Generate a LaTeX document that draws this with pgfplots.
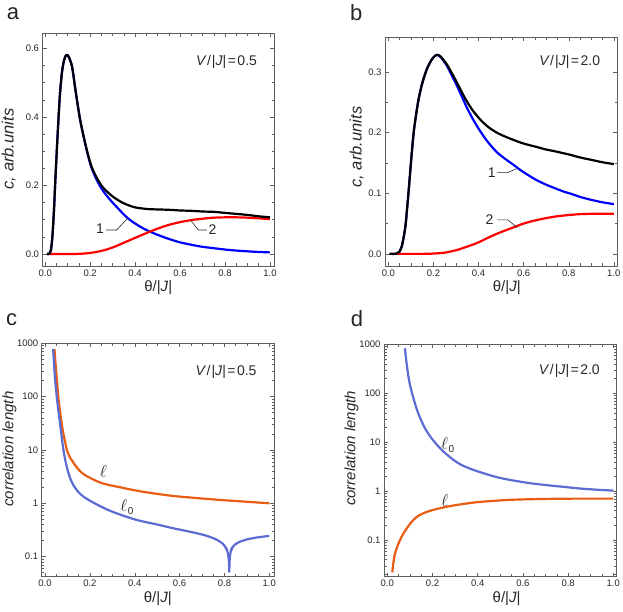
\documentclass[border=0pt]{standalone}
\usepackage{pgfplots}
\pgfplotsset{compat=1.18}
\usepackage{fontspec}
\setmainfont{Liberation Sans}
\definecolor{lorange}{RGB}{232,92,20}
\definecolor{lblue}{RGB}{92,108,210}
\definecolor{txt}{RGB}{40,40,40}
\definecolor{frm}{RGB}{95,95,95}
\newcommand{\tickfont}{\fontsize{9.5}{10}\selectfont}
\newcommand{\labfont}{\fontsize{15}{16}\selectfont}
\newcommand{\annfont}{\fontsize{14}{15}\selectfont}
\newcommand{\ellfont}{\fontsize{17}{18}\selectfont}
\newcommand{\VJ}[1]{\textit{V}\kern0.5pt/\kern1pt|\textit{J}|\kern1.5pt=\kern1.5pt#1}
\newcommand{\ellz}{$\ell$\kern0.5pt\raisebox{-3pt}{\fontsize{10}{10}\selectfont 0}}
\pgfplotsset{
  myaxis/.style={
    scale only axis,
    anchor=south west,
    axis line style={frm, line width=0.6pt},
    every tick/.style={frm, line width=0.5pt},
    major tick length=4pt,
    minor tick length=2.5pt,
    tick align=inside,
    xtick={0,0.2,0.4,0.6,0.8,1.0},
    minor x tick num=3,
    /pgf/number format/assume math mode=true,
    tick label style={font=\tickfont, text=txt},
    xticklabel style={/pgf/number format/.cd, fixed, fixed zerofill, precision=1},
    xlabel={θ/|\textit{J}|},
    xlabel style={at={(axis description cs:0.5,0)}, anchor=center, yshift=-21.5pt, font=\labfont, text=txt},
    ylabel style={font=\labfont, text=txt, anchor=center},
    every axis plot/.append style={line width=2.2pt, line join=round},
  },
  linaxis/.style={
    yticklabel style={/pgf/number format/.cd, fixed, fixed zerofill, precision=1},
    ylabel style={font=\fontsize{16.5}{17}\selectfont},
  },
  logaxis/.style={
    ytick={0.1,1,10,100,1000},
    yticklabels={0.1,1,10,100,1000},
    minor ytick={0.02,0.03,0.04,0.05,0.06,0.07,0.08,0.09,0.2,0.3,0.4,0.5,0.6,0.7,0.8,0.9,2,3,4,5,6,7,8,9,20,30,40,50,60,70,80,90,200,300,400,500,600,700,800,900},
    ylabel={\textit{correlation length}},
  },
}
\begin{document}
\begin{tikzpicture}
\path[use as bounding box] (0,0) rectangle (623pt,611pt);

% ---------- panel a ----------
\begin{axis}[myaxis, linaxis, at={(42.5pt,345pt)}, width=231.5pt, height=232.7pt,
  xmin=-0.012, xmax=1.018, ymin=-0.035, ymax=0.644,
  ytick={0,0.2,0.4,0.6}, minor y tick num=3,
  ylabel={\textit{c, arb.units}},
  ylabel style={at={(axis description cs:-0.146,0.503)}}]
\addplot[blue, smooth, tension=0.5] coordinates {
(0.008,0) (0.015,0) (0.02,0.002) (0.025,0.01) (0.03,0.035) (0.034,0.07) (0.04,0.14)
(0.044,0.2) (0.05,0.28) (0.055,0.345) (0.06,0.405) (0.065,0.46) (0.07,0.5) (0.075,0.532)
(0.08,0.553) (0.085,0.568) (0.09,0.577) (0.095,0.581) (0.1,0.58) (0.105,0.575) (0.11,0.567)
(0.115,0.558) (0.12,0.545) (0.125,0.525) (0.13,0.5) (0.14,0.455) (0.153,0.4) (0.165,0.36)
(0.175,0.33) (0.185,0.302) (0.195,0.276) (0.207,0.25) (0.225,0.222) (0.244,0.198) (0.26,0.182)
(0.28,0.165) (0.3,0.15) (0.32,0.136) (0.34,0.122) (0.36,0.109) (0.38,0.098) (0.4,0.089)
(0.43,0.077) (0.46,0.067) (0.5,0.056) (0.55,0.044) (0.6,0.034) (0.65,0.027) (0.7,0.021)
(0.75,0.017) (0.8,0.013) (0.85,0.01) (0.9,0.0078) (0.95,0.006) (1.0,0.0047)};
\addplot[red, smooth, tension=0.5] coordinates {
(0.008,0) (0.1,0) (0.15,0.0005) (0.2,0.003) (0.25,0.009) (0.3,0.019) (0.35,0.033)
(0.4,0.047) (0.45,0.061) (0.5,0.074) (0.55,0.085) (0.6,0.093) (0.65,0.099) (0.7,0.103)
(0.75,0.106) (0.8,0.107) (0.85,0.107) (0.9,0.106) (0.95,0.104) (1.0,0.102)};
\addplot[black, smooth, tension=0.5] coordinates {
(0.008,0) (0.015,0) (0.02,0.002) (0.025,0.01) (0.03,0.035) (0.034,0.07) (0.04,0.14)
(0.044,0.2) (0.05,0.28) (0.055,0.345) (0.06,0.405) (0.065,0.46) (0.07,0.5) (0.075,0.532)
(0.08,0.553) (0.085,0.568) (0.09,0.577) (0.095,0.581) (0.1,0.58) (0.105,0.575) (0.11,0.567)
(0.115,0.558) (0.12,0.545) (0.125,0.525) (0.13,0.5) (0.14,0.455) (0.153,0.401) (0.165,0.361)
(0.175,0.332) (0.185,0.304) (0.195,0.279) (0.207,0.254) (0.225,0.228) (0.244,0.206) (0.26,0.192)
(0.28,0.179) (0.3,0.168) (0.32,0.159) (0.34,0.151) (0.36,0.145) (0.38,0.140) (0.4,0.136)
(0.43,0.133) (0.46,0.131) (0.5,0.130) (0.55,0.129) (0.6,0.127) (0.65,0.126) (0.7,0.124)
(0.75,0.123) (0.8,0.120) (0.85,0.117) (0.9,0.114) (0.95,0.110) (1.0,0.107)};
\draw[txt, line width=0.6pt] (axis cs:0.271,0.07) -- (axis cs:0.318,0.07) -- (axis cs:0.366,0.104);
\draw[txt, line width=0.6pt] (axis cs:0.719,0.07) -- (axis cs:0.681,0.07) -- (axis cs:0.647,0.099);
\node[font=\annfont, text=txt, inner sep=0pt] at (axis cs:0.244,0.073) {1};
\node[font=\annfont, text=txt, inner sep=0pt] at (axis cs:0.744,0.071) {2};
\node[font=\annfont, text=txt, inner sep=0pt, anchor=east] at (axis cs:0.943,0.561) {\VJ{0.5}};
\end{axis}

% ---------- panel b ----------
\begin{axis}[myaxis, linaxis, at={(385pt,345pt)}, width=232pt, height=228.7pt,
  xmin=-0.015, xmax=1.014, ymin=-0.02, ymax=0.357,
  ytick={0,0.1,0.2,0.3}, minor y tick num=1,
  ylabel={\textit{c, arb.units}},
  ylabel style={at={(axis description cs:-0.122,0.52)}},
  xlabel style={at={(axis description cs:0.525,0)}}]
\addplot[blue, smooth, tension=0.5] coordinates {
(0.005,0) (0.03,0) (0.04,0.001) (0.05,0.004) (0.055,0.008) (0.06,0.013) (0.064,0.02)
(0.07,0.032) (0.077,0.05) (0.083,0.075) (0.089,0.1) (0.1,0.15) (0.111,0.196) (0.12,0.222)
(0.133,0.253) (0.15,0.281) (0.17,0.304) (0.19,0.319) (0.2,0.324) (0.214,0.328) (0.23,0.325)
(0.258,0.311) (0.28,0.295) (0.303,0.278) (0.325,0.26) (0.347,0.242) (0.375,0.222) (0.406,0.203)
(0.44,0.185) (0.48,0.168) (0.52,0.156) (0.554,0.147) (0.59,0.137) (0.628,0.128) (0.66,0.121)
(0.7,0.114) (0.74,0.108) (0.775,0.103) (0.81,0.099) (0.849,0.094) (0.9,0.089) (0.95,0.085) (1.0,0.082)};
\addplot[red, smooth, tension=0.5] coordinates {
(0.005,0) (0.15,0) (0.2,0.0005) (0.25,0.002) (0.3,0.006) (0.35,0.012) (0.4,0.019)
(0.45,0.028) (0.5,0.036) (0.55,0.043) (0.6,0.05) (0.65,0.055) (0.7,0.059) (0.75,0.062)
(0.8,0.064) (0.85,0.0655) (0.9,0.066) (0.95,0.066) (1.0,0.066)};
\addplot[black, smooth, tension=0.5] coordinates {
(0.005,0) (0.03,0) (0.04,0.001) (0.05,0.004) (0.055,0.008) (0.06,0.013) (0.064,0.02)
(0.07,0.032) (0.077,0.05) (0.083,0.075) (0.089,0.1) (0.1,0.15) (0.111,0.196) (0.12,0.222)
(0.133,0.253) (0.15,0.281) (0.17,0.304) (0.19,0.319) (0.2,0.324) (0.214,0.328) (0.23,0.326)
(0.258,0.313) (0.28,0.299) (0.303,0.283) (0.325,0.267) (0.347,0.252) (0.375,0.236) (0.406,0.222)
(0.44,0.21) (0.48,0.2) (0.52,0.193) (0.554,0.188) (0.59,0.183) (0.628,0.179) (0.66,0.176)
(0.7,0.172) (0.74,0.169) (0.775,0.166) (0.81,0.163) (0.849,0.159) (0.9,0.155) (0.95,0.151) (1.0,0.148)};
\draw[txt, line width=0.6pt] (axis cs:0.483,0.134) -- (axis cs:0.529,0.134) -- (axis cs:0.572,0.141);
\draw[txt, line width=0.6pt] (axis cs:0.483,0.056) -- (axis cs:0.529,0.056) -- (axis cs:0.572,0.0435);
\node[font=\annfont, text=txt, inner sep=0pt] at (axis cs:0.458,0.133) {1};
\node[font=\annfont, text=txt, inner sep=0pt] at (axis cs:0.448,0.056) {2};
\node[font=\annfont, text=txt, inner sep=0pt, anchor=east] at (axis cs:0.94,0.316) {\VJ{2.0}};
\end{axis}

% ---------- panel c ----------
\begin{axis}[myaxis, ymode=log, logaxis, at={(41.7pt,34.3pt)}, width=232.3pt, height=233.4pt,
  xmin=-0.015, xmax=1.021, ymin=0.042, ymax=1000,
  ylabel style={at={(axis description cs:-0.139,0.547)}}]
\addplot[lorange, smooth, tension=0.5] coordinates {
(0.042,780) (0.045,520) (0.05,280) (0.055,160) (0.059,100) (0.065,60) (0.07,42) (0.076,28)
(0.082,20) (0.09,13.8) (0.097,10) (0.11,7.4) (0.126,5.8) (0.14,4.8) (0.16,3.85) (0.18,3.35)
(0.2,3.0) (0.24,2.5) (0.275,2.25) (0.334,2.0) (0.38,1.82) (0.423,1.68) (0.5,1.5) (0.572,1.37)
(0.65,1.28) (0.72,1.21) (0.8,1.14) (0.869,1.09) (0.94,1.04) (1.0,1.0)};
\addplot[lblue, smooth, tension=0.5] coordinates {
(0.036,780) (0.038,560) (0.041,350) (0.045,200) (0.05,125) (0.052,100) (0.056,72) (0.06,52)
(0.067,31) (0.075,16.5) (0.082,10) (0.089,6.8) (0.097,4.8) (0.11,3.1) (0.126,2.2) (0.15,1.6)
(0.175,1.3) (0.2,1.12) (0.235,0.93) (0.275,0.77) (0.31,0.67) (0.349,0.585) (0.38,0.53) (0.423,0.47)
(0.5,0.4) (0.572,0.34) (0.646,0.293) (0.7,0.26) (0.72,0.246) (0.75,0.222) (0.775,0.197)
(0.795,0.17) (0.805,0.15) (0.812,0.13)};
\addplot[lblue] coordinates {
(0.805,0.15) (0.812,0.13) (0.816,0.112) (0.819,0.092) (0.8205,0.072) (0.8215,0.052)
(0.8225,0.072) (0.824,0.1) (0.828,0.125) (0.835,0.148)};
\addplot[lblue, smooth, tension=0.5] coordinates {
(0.828,0.125) (0.835,0.148) (0.85,0.172) (0.869,0.19) (0.9,0.21) (0.944,0.228) (1.0,0.245)};
\node[font=\ellfont, text=txt, inner sep=0pt] at (axis cs:0.26,3.9) {$\ell$};
\node[font=\ellfont, text=txt, inner sep=0pt] at (axis cs:0.365,0.84) {\ellz};
\node[font=\annfont, text=txt, inner sep=0pt, anchor=east] at (axis cs:0.944,295) {\VJ{0.5}};
\end{axis}

% ---------- panel d ----------
\begin{axis}[myaxis, ymode=log, logaxis, at={(384pt,34.3pt)}, width=232.7pt, height=232.4pt,
  xmin=-0.0146, xmax=1.015, ymin=0.018, ymax=1000,
  ylabel style={at={(axis description cs:-0.14,0.552)}},
  xlabel style={at={(axis description cs:0.527,0)}}]
\addplot[lblue, smooth, tension=0.5] coordinates {
(0.078,830) (0.085,420) (0.093,228) (0.1,150) (0.115,81) (0.13,48) (0.145,31.6) (0.165,20)
(0.189,13.3) (0.21,10) (0.233,7.6) (0.26,5.8) (0.292,4.4) (0.33,3.4) (0.38,2.74) (0.43,2.3)
(0.484,1.94) (0.55,1.68) (0.631,1.46) (0.7,1.34) (0.779,1.23) (0.85,1.14) (0.92,1.08) (1.0,1.03)};
\addplot[lorange, smooth, tension=0.5] coordinates {
(0.022,0.022) (0.027,0.035) (0.034,0.053) (0.045,0.076) (0.056,0.1) (0.07,0.135) (0.086,0.174)
(0.1,0.215) (0.115,0.258) (0.135,0.31) (0.159,0.354) (0.19,0.4) (0.233,0.45) (0.28,0.5)
(0.336,0.55) (0.4,0.6) (0.484,0.643) (0.55,0.67) (0.631,0.687) (0.7,0.697) (0.779,0.704)
(0.85,0.707) (1.0,0.707)};
\node[font=\ellfont, text=txt, inner sep=0pt] at (axis cs:0.267,8.9) {\ellz};
\node[font=\ellfont, text=txt, inner sep=0pt] at (axis cs:0.255,0.66) {$\ell$};
\node[font=\annfont, text=txt, inner sep=0pt, anchor=east] at (axis cs:0.941,288) {\VJ{2.0}};
\end{axis}

% panel letters
\node[anchor=base west, inner sep=0pt, font=\fontsize{22}{22}\selectfont, text=black!85] at (6.7pt,591pt) {a};
\node[anchor=base west, inner sep=0pt, font=\fontsize{22}{22}\selectfont, text=black!85] at (350pt,590.3pt) {b};
\node[anchor=base west, inner sep=0pt, font=\fontsize{22}{22}\selectfont, text=black!85] at (6pt,286pt) {c};
\node[anchor=base west, inner sep=0pt, font=\fontsize{22}{22}\selectfont, text=black!85] at (350.7pt,285pt) {d};
\end{tikzpicture}
\end{document}
